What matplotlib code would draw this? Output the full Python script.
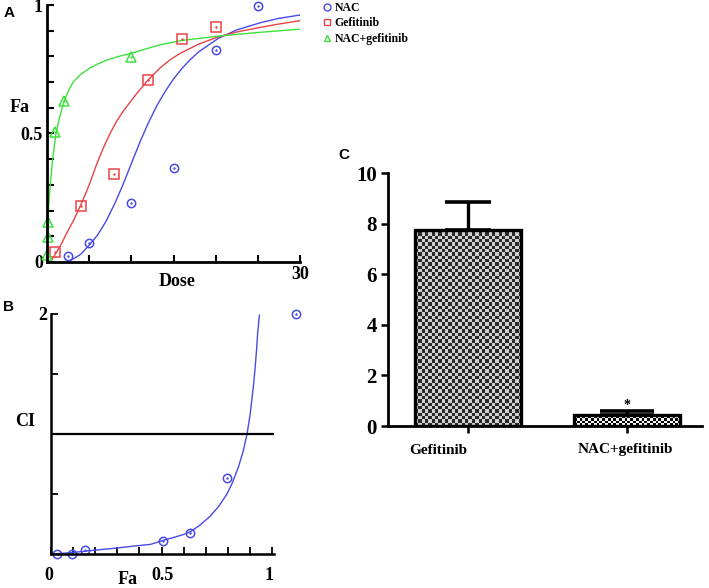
import matplotlib
matplotlib.use('Agg')
import matplotlib.pyplot as plt
from matplotlib.lines import Line2D
from matplotlib.colors import ListedColormap
import numpy as np

W, H = 709, 588
SERIF = 'Liberation Serif'
SANS = 'Liberation Sans'

# ---- panel A: dose-effect points
nac_dose = [2.5, 5, 10, 15, 20, 25]
nac_fa = [0.025, 0.074, 0.229, 0.365, 0.823, 0.997]
gef_dose = [1, 4, 8, 12, 16, 20]
gef_fa = [0.039, 0.219, 0.343, 0.709, 0.868, 0.916]
combo_dose = [0.05, 0.1, 0.15, 1, 2, 10]
combo_fa = [0.028, 0.096, 0.154, 0.505, 0.628, 0.797]

# fitted curves
nac_curve_dose = [2.3, 3.0, 4, 5, 6, 7, 8, 9, 10, 11, 12, 13, 14, 15, 16, 17, 18, 20.3,
                  22.5, 25.3, 27.5, 30]
nac_curve_fa = [0.0, 0.01, 0.03, 0.065, 0.105, 0.158, 0.225, 0.30, 0.383, 0.465, 0.54, 0.607,
                0.663, 0.712, 0.753, 0.788, 0.818, 0.87, 0.903, 0.931, 0.948, 0.961]
gef_curve_dose = [0.36, 0.7, 1.07, 1.7, 2.3, 3.2, 4.0, 4.5, 5.0, 5.5, 6.0, 6.7, 7.55, 8.3,
                  9.0, 10.5, 11.9, 13.4, 14.6, 15.8, 18, 20.3, 22.5, 25.3, 27.5, 30]
gef_curve_fa = [0.0, 0.015, 0.035, 0.07, 0.11, 0.165, 0.222, 0.26, 0.30, 0.345, 0.39, 0.445,
                0.505, 0.55, 0.585, 0.65, 0.705, 0.755, 0.787, 0.812, 0.848, 0.876, 0.895,
                0.913, 0.926, 0.939]
combo_curve_dose = [0.0, 0.03, 0.1, 0.2, 0.36, 0.67, 1.07, 1.5, 2.05, 2.6, 3.1, 4.0, 5.1, 6.0,
                    7.1, 8.5, 10, 12, 13.4, 16, 20.3, 25, 30]
combo_curve_fa = [0.0, 0.06, 0.15, 0.22, 0.29, 0.40, 0.50, 0.565, 0.628, 0.67, 0.70, 0.73,
                  0.755, 0.77, 0.786, 0.80, 0.812, 0.832, 0.845, 0.862, 0.879, 0.893, 0.906]

# ---- panel B: Fa-CI plot
ci_pts_fa = [0.028, 0.096, 0.154, 0.505, 0.628, 0.797, 1.11]
ci_pts = [0.0, 0.0, 0.03, 0.11, 0.175, 0.633, 2.0]
ci_curve_fa = [0.0, 0.07, 0.15, 0.22, 0.30, 0.37, 0.45, 0.50, 0.55, 0.60, 0.63, 0.67, 0.72,
               0.76, 0.796, 0.82, 0.849, 0.87, 0.887, 0.90, 0.909, 0.917, 0.924, 0.93,
               0.935, 0.943]
ci_curve = [0.0, 0.008, 0.022, 0.036, 0.05, 0.065, 0.08, 0.11, 0.135, 0.163, 0.185, 0.235,
            0.314, 0.40, 0.50, 0.59, 0.73, 0.86, 1.0, 1.15, 1.29, 1.42, 1.56, 1.70, 1.84, 1.99]

# ---- panel C: bars
groups = ['Gefitinib', 'NAC+gefitinib']
means = [7.76, 0.43]
errs = [1.09, 0.17]

blue = '#4a4ae6'
red = '#e84444'
green = '#3ee03e'


def box(l, t, r, b):
    return [l / W, 1 - b / H, (r - l) / W, (b - t) / H]


def fpos(x, y):
    return x / W, 1 - y / H


def checker(ax, bar, cell_px, c1, c2):
    # fill a bar with a checkerboard texture clipped to the bar
    bb = bar.get_window_extent()
    nx = max(1, int(round(bb.width / cell_px)))
    ny = max(1, int(round(bb.height / cell_px)))
    img = np.add.outer(np.arange(ny), np.arange(nx)) % 2
    x0, y0 = bar.get_x(), bar.get_y()
    im = ax.imshow(img, cmap=ListedColormap([c1, c2]), origin='lower', aspect='auto',
                   interpolation='nearest', zorder=2.5,
                   extent=(x0, x0 + bar.get_width(), y0, y0 + bar.get_height()))
    im.set_clip_path(bar)


fig = plt.figure(figsize=(W / 100, H / 100), dpi=100)
bold = dict(family=SERIF, weight='bold')

# ================= A
axA = fig.add_axes(box(47, 5, 300, 262))
axA.plot(nac_curve_dose, nac_curve_fa, color=blue, lw=1.0)
axA.plot(gef_curve_dose, gef_curve_fa, color=red, lw=1.0)
axA.plot(combo_curve_dose, combo_curve_fa, color=green, lw=1.0)
axA.plot(nac_dose, nac_fa, 'o', mfc='none', mec=blue, ms=6, mew=1.1, clip_on=False)
axA.plot(gef_dose, gef_fa, 's', mfc='none', mec=red, ms=6.5, mew=1.1, clip_on=False)
axA.plot(combo_dose, combo_fa, '^', mfc='none', mec=green, ms=6.5, mew=1.1, clip_on=False)
for d, f, c in [(nac_dose, nac_fa, blue), (gef_dose, gef_fa, red), (combo_dose, combo_fa, green)]:
    axA.plot(d, f, '.', color=c, ms=1.5, clip_on=False)
axA.set_xlim(0, 30)
axA.set_ylim(0, 1)
for s in ['top', 'right']:
    axA.spines[s].set_visible(False)
for s in ['left', 'bottom']:
    axA.spines[s].set_linewidth(2)
axA.set_xticks([0, 5, 10, 15, 20, 25, 30])
axA.set_xticklabels(['', '', '', '', '', '', '30'])
axA.set_yticks([i / 10 for i in range(11)])
axA.set_yticklabels(['0', '', '', '', '', '0.5', '', '', '', '', '1'])
axA.tick_params(direction='in', length=5, width=1.5, labelsize=13, pad=3)
for t in axA.get_xticklabels() + axA.get_yticklabels():
    t.set_family(SERIF)
    t.set_weight('bold')
fig.text(*fpos(20, 108), 'Fa', ha='center', va='center', fontsize=13, **bold)
fig.text(*fpos(177, 282), 'Dose', ha='center', va='center', fontsize=13, **bold)

handles = [Line2D([], [], ls='none', marker='o', mfc='none', mec=blue, ms=5),
           Line2D([], [], ls='none', marker='s', mfc='none', mec=red, ms=5),
           Line2D([], [], ls='none', marker='^', mfc='none', mec=green, ms=5)]
fig.legend(handles, ['NAC', 'Gefitinib', 'NAC+gefitinib'], loc='upper left',
           bbox_to_anchor=fpos(318, -3), frameon=False, handlelength=0.8,
           handletextpad=0.2, labelspacing=0.3, borderaxespad=0,
           prop=dict(family=SERIF, weight='bold', size=8.5))

# ================= B
axB = fig.add_axes(box(51, 314, 274, 554))
axB.plot(ci_curve_fa, ci_curve, color=blue, lw=1.0)
axB.plot(ci_pts_fa, ci_pts, 'o', mfc='none', mec=blue, ms=6, mew=1.1, clip_on=False)
axB.plot(ci_pts_fa, ci_pts, '.', color=blue, ms=1.5, clip_on=False)
axB.axhline(1, color='black', lw=1.6)
axB.set_xlim(0, 1.009)
axB.set_ylim(0, 2)
for s in ['top', 'right']:
    axB.spines[s].set_visible(False)
for s in ['left', 'bottom']:
    axB.spines[s].set_linewidth(1.8)
axB.set_xticks([i / 10 for i in range(11)])
axB.set_xticklabels([''] * 11)
axB.set_yticks([0.5, 1, 1.5, 2])
axB.set_yticklabels(['', '', '', '2'])
axB.tick_params(direction='in', length=5, width=1.3, labelsize=13, pad=3)
for t in axB.get_yticklabels():
    t.set_family(SERIF)
    t.set_weight('bold')
for lab, x in [('0', 49), ('0.5', 163), ('1', 269)]:
    fig.text(*fpos(x, 575), lab, ha='center', va='center', fontsize=13, **bold)
fig.text(*fpos(128, 580), 'Fa', ha='center', va='center', fontsize=13, **bold)
fig.text(*fpos(25, 422), 'CI', ha='center', va='center', fontsize=13, **bold)

# ================= C
axC = fig.add_axes(box(388, 173.3, 702, 426))
xs = [0, 1]
axC.set_xlim(-0.503, 1.47)
axC.set_ylim(0, 10)
bars = axC.bar(xs, means, width=0.667, color='white', lw=0, zorder=2)
checker(axC, bars[0], 3.3, '#2a2a2a', '#cfcfcf')
checker(axC, bars[1], 2.8, '#000000', '#ffffff')
axC.bar(xs, means, width=0.667, fill=False, edgecolor='black', lw=2.4, zorder=3)
axC.errorbar(xs[0], means[0], yerr=[[0], [errs[0]]], fmt='none', ecolor='black',
             elinewidth=2.4, capsize=16.5, capthick=2.6, zorder=1)
axC.errorbar(xs[1], means[1], yerr=[[0], [errs[1]]], fmt='none', ecolor='black',
             elinewidth=2.4, capsize=19.5, capthick=2.6, zorder=1)
axC.text(xs[1], means[1] + errs[1] + 0.2, '*', ha='center', va='center', fontsize=10, **bold)
axC.set_xlim(-0.503, 1.47)
axC.set_ylim(0, 10)
for s in ['top', 'right']:
    axC.spines[s].set_visible(False)
for s in ['left', 'bottom']:
    axC.spines[s].set_linewidth(2)
axC.set_xticks(xs)
axC.set_xticklabels(['', ''])
axC.set_yticks([0, 2, 4, 6, 8, 10])
axC.tick_params(direction='out', length=5, width=1.8, labelsize=15, pad=3)
for t in axC.get_yticklabels():
    t.set_family(SERIF)
    t.set_weight('bold')
fig.text(*fpos(438, 450), groups[0], ha='center', va='center', fontsize=11, **bold)
fig.text(*fpos(625, 450), groups[1], ha='center', va='center', fontsize=11, **bold)

# panel letters
for lab, x, y in [('A', 9, 13), ('B', 9, 307), ('C', 344, 155)]:
    fig.text(*fpos(x, y), lab, ha='center', va='center', fontsize=11,
             family=SANS, weight='bold')

fig.savefig('out.png', dpi=100)
